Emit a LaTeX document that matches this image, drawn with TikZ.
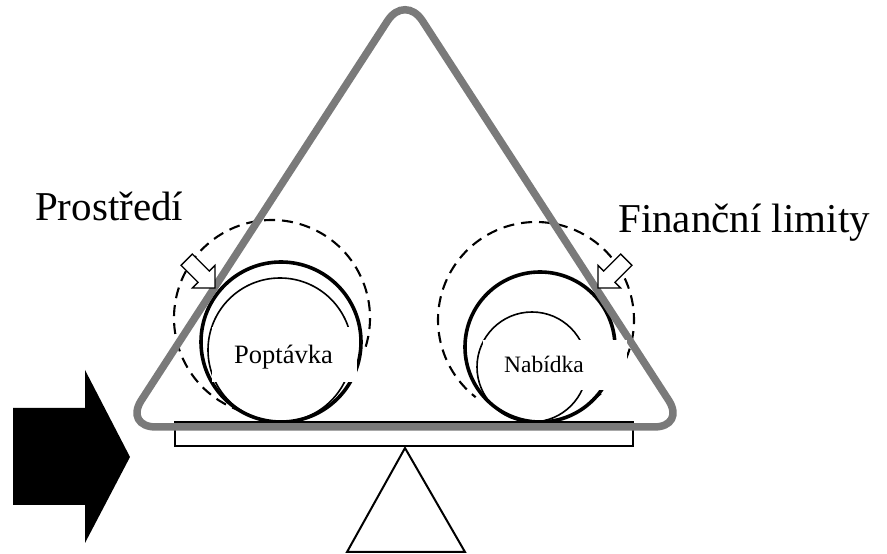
\documentclass[tikz,border=0pt]{standalone}
\usepackage{fontspec}
\setmainfont{Liberation Serif}
\begin{document}
\begin{tikzpicture}[x=1pt,y=1pt,
  greyline/.style={draw=black!52, line width=7.5pt, rounded corners=32pt},
  thickc/.style={draw=black, line width=3.6pt},
  thinc/.style={draw=black, line width=1.6pt},
  dashc/.style={draw=black, line width=2.1pt, dash pattern=on 11pt off 7pt},
  labelbox/.style={fill=white, inner sep=0pt},
  bigtext/.style={font=\fontsize{41}{48}\selectfont, inner sep=0pt, anchor=base west},
  smalltext/.style={inner sep=0pt, anchor=base},
  hollowarrow/.style={draw=black, fill=white, line width=1.3pt, line join=miter},
  beam/.style={draw=black, line width=1.8pt, fill=white},
  fulcrum/.style={draw=black, line width=2pt, line join=miter}
]
\useasboundingbox (0,0) rectangle (887,554);
% beam
\draw[beam] (175,132) rectangle (633,108);
% dashed orbits
\draw[dashc] (272,236) ++(-17:98) arc[start angle=-17, end angle=252, radius=98];
\draw[dashc] (536,234) ++(-55:98) arc[start angle=-55, end angle=232, radius=98];
% thin circles
\draw[thinc] (280,204) circle[radius=72];
\draw[thinc] (532,187) circle[radius=55];
% thick circles
\draw[thickc] (281,212) circle[radius=80];
\draw[thickc] (540,207) circle[radius=75];
% grey triangle
\draw[greyline] (405,127) -- (686,127) -- (405,560) -- (124,127) -- cycle;
% label boxes
\node[labelbox, minimum width=145pt, minimum height=55pt] (boxL) at (284.5,199.5) {};
\node[smalltext, font=\fontsize{26.5}{30}\selectfont] (poptavka) at (283.5,190) {Poptávka};
\node[labelbox, minimum width=144pt, minimum height=50pt] (boxR) at (555,189) {};
\node[smalltext, font=\fontsize{23.5}{28}\selectfont] (nabidka) at (544,181) {Nabídka};
% small hollow arrows
\path[hollowarrow, shift={(186.7,294.3)}, rotate=-45] (0,8) -- (24,8) -- (24,16) -- (40,0) -- (24,-16) -- (24,-8) -- (0,-8) -- cycle;
\path[hollowarrow, shift={(626.3,294.3)}, rotate=-135] (0,8) -- (24,8) -- (24,16) -- (40,0) -- (24,-16) -- (24,-8) -- (0,-8) -- cycle;
% big black arrow
\fill[black] (13,146) -- (85,146) -- (85,184) -- (130,97) -- (85,11) -- (85,49) -- (13,49) -- cycle;
% fulcrum
\draw[fulcrum] (405,106) -- (465,2) -- (347,2) -- cycle;
% texts
\node[bigtext] (prostredi) at (35,333) {Prostředí};
\node[bigtext] (financni) at (618,321) {Finanční limity};
\end{tikzpicture}
\end{document}
